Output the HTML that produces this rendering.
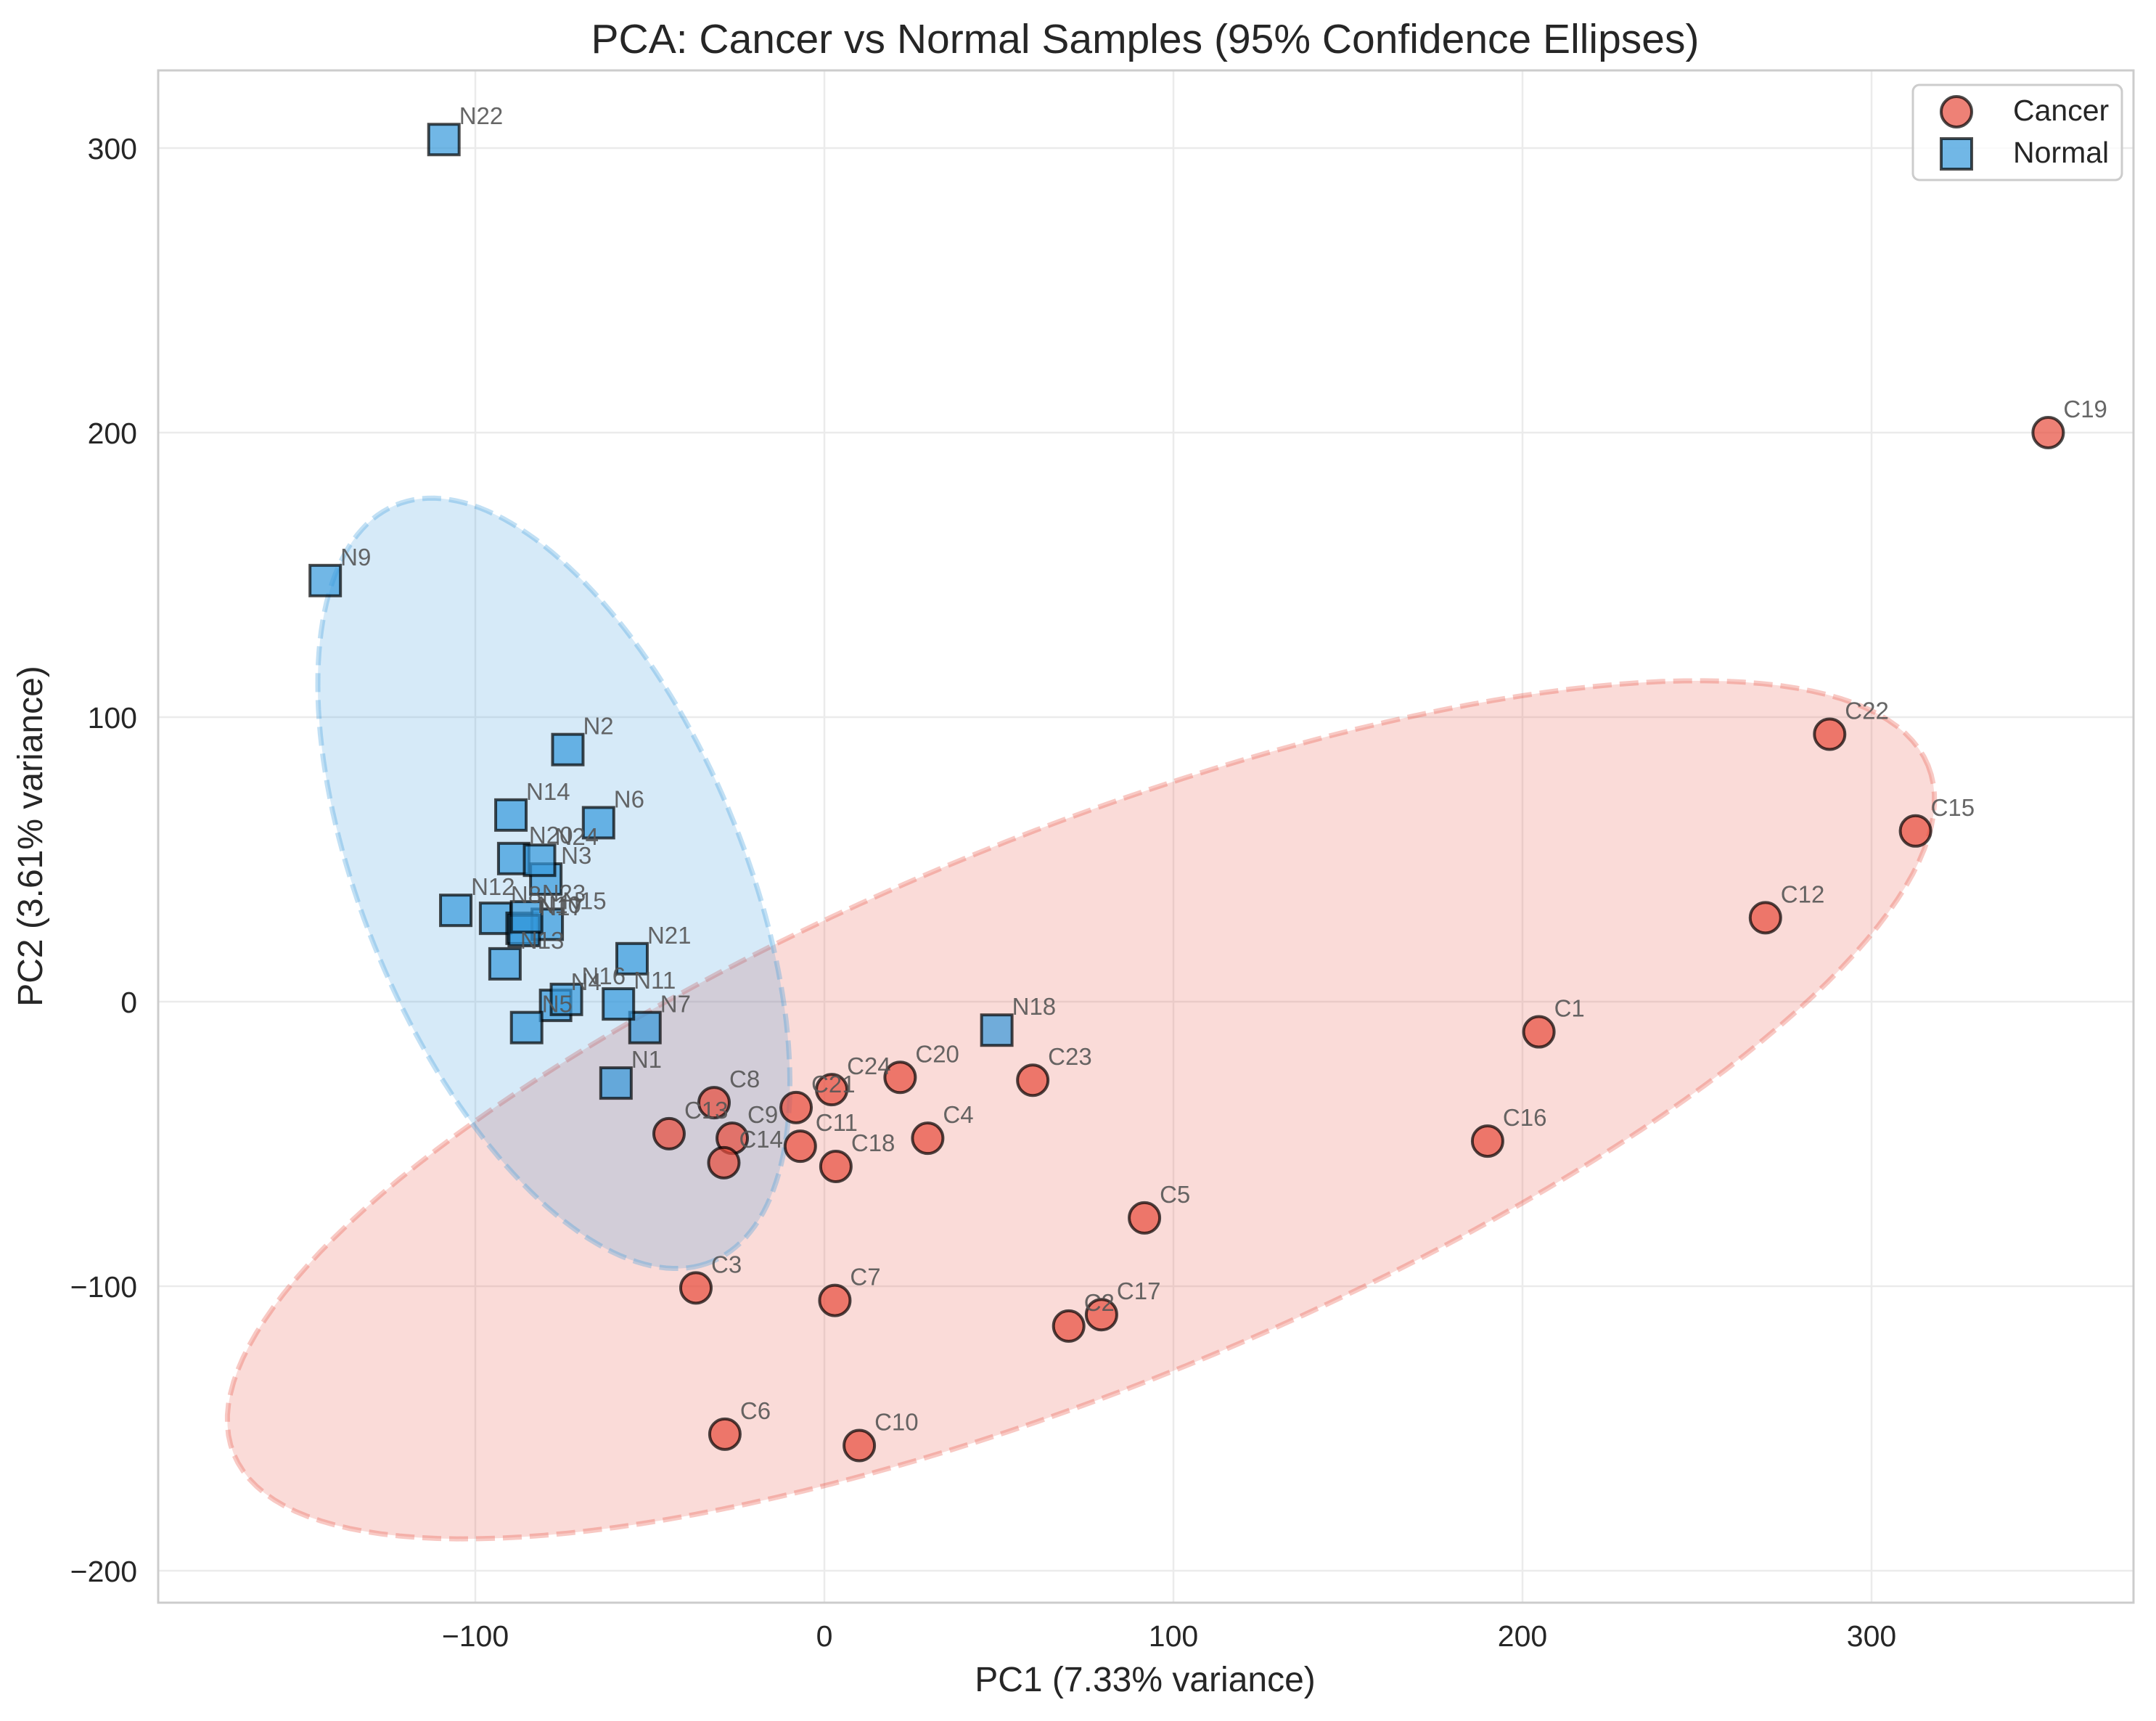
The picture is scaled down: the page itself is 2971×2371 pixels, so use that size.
<!DOCTYPE html>
<html><head><meta charset="utf-8"><style>
html,body{margin:0;padding:0;background:#fff;}
svg{display:block;font-family:"Liberation Sans",Arial,sans-serif;}
</style></head><body>
<svg id="chart" xmlns="http://www.w3.org/2000/svg" width="2971" height="2371" viewBox="0 0 2971 2371">
<rect x="0" y="0" width="2971" height="2371" fill="#fff"/>
<g id="grid"></g>
<g id="ellipses"></g>
<g id="points"></g>
<g id="labels"></g>
<rect x="218" y="97" width="2722" height="2111" fill="none" stroke="#cccccc" stroke-width="3"/>
<g id="ticks"></g>
<text x="1578" y="73" font-size="57" fill="#262626" text-anchor="middle">PCA: Cancer vs Normal Samples (95% Confidence Ellipses)</text>
<text x="1578" y="2330" font-size="48" fill="#262626" text-anchor="middle">PC1 (7.33% variance)</text>
<text x="0" y="0" font-size="48" fill="#262626" text-anchor="middle" transform="translate(58,1152) rotate(-90)">PC2 (3.61% variance)</text>
<g>
<rect x="2636" y="117" width="288" height="131" rx="9" fill="#fff" fill-opacity="0.8" stroke="#cccccc" stroke-width="3"/>
<circle cx="2696" cy="154" r="21" fill="#e74c3c" fill-opacity="0.7" stroke="#000" stroke-opacity="0.7" stroke-width="4"/>
<text x="2774" y="166" font-size="41" fill="#262626">Cancer</text>
<rect x="2675" y="191" width="42" height="42" fill="#3498db" fill-opacity="0.7" stroke="#000" stroke-opacity="0.7" stroke-width="4"/>
<text x="2774" y="224" font-size="41" fill="#262626">Normal</text>
</g>
</svg>
<script>
const xTicks = [-100, 0, 100, 200, 300];
const yTicks = [-200, -100, 0, 100, 200, 300];
const cancerNames = ["C1","C2","C3","C4","C5","C6","C7","C8","C9","C10","C11","C12","C13","C14","C15","C16","C17","C18","C19","C20","C21","C22","C23","C24"];
const cancerPC1 = [204.7,70,-36.8,29.6,91.7,-28.5,3,-31.6,-26.4,10,-6.9,269.6,-44.5,-28.8,312.6,190,79.4,3.3,350.6,21.7,-8.1,288,59.7,2.1];
const cancerPC2 = [-10.6,-114,-100.6,-48,-76,-152,-105,-35.5,-48,-156,-50.8,29.5,-46.4,-56.6,60,-49,-110,-57.9,200,-26.6,-37.2,94,-27.6,-30.9];
const normalNames = ["N1","N2","N3","N4","N5","N6","N7","N8","N9","N10","N11","N12","N13","N14","N15","N16","N17","N18","N20","N21","N22","N23","N24"];
const normalPC1 = [-59.7,-73.5,-79.8,-77,-85.3,-64.7,-51.4,-94.2,-143,-86.6,-59,-105.6,-91.5,-89.8,-79.4,-73.9,-86,49.4,-89,-55.1,-109,-85.3,-81.6];
const normalPC2 = [-28.6,88.6,43.1,-1.3,-9.1,62.9,-9.1,29.3,148,25.8,-0.8,32.1,13.3,65.6,27.2,0.8,25,-10,50.3,15.1,303,29.8,49.7];
// ellipse params (data units): center, major half-vector, minor half-vector
const cancerEllipseCenter = [73.5, -38];
const cancerEllipseMajor = [242.7, 121];
const cancerEllipseMinor = [30, -90];
const normalEllipseCenter = [-77.5, 41.6];
const normalEllipseMajor = [42, -134.3];
const normalEllipseMinor = [53, 17];

const NS = "http://www.w3.org/2000/svg";
const L = 218, R = 2940, T = 97, B = 2208;
function sx(v){ return 1136 + 4.81 * v; }
function sy(v){ return 1380 - 3.92 * v; }
function mk(tag, attrs, parent){
  const e = document.createElementNS(NS, tag);
  for (const k in attrs) e.setAttribute(k, attrs[k]);
  parent.appendChild(e);
  return e;
}
const grid = document.getElementById('grid');
const ticks = document.getElementById('ticks');
xTicks.forEach(v => {
  const g = mk('line', {x1: sx(v), x2: sx(v), y1: T, y2: B, stroke: '#ebebeb', 'stroke-width': 2.5}, grid);
  
  
  const t = mk('text', {x: sx(v), y: 2268, 'font-size': 41, fill: '#262626', 'text-anchor': 'middle'}, ticks);
  t.textContent = v === 0 ? '0' : String(v).replace('-', '\u2212');
  
  
});
yTicks.forEach(v => {
  const g = mk('line', {x1: L, x2: R, y1: sy(v), y2: sy(v), stroke: '#ebebeb', 'stroke-width': 2.5}, grid);
  
  
  const t = mk('text', {x: 189, y: sy(v) + 15, 'font-size': 41, fill: '#262626', 'text-anchor': 'end'}, ticks);
  t.textContent = v === 0 ? '0' : String(v).replace('-', '\u2212');
  
  
});
function ellipsePath(c, a, b){
  let d = '';
  for (let i = 0; i <= 180; i++){
    const t = i / 180 * 2 * Math.PI;
    const px = sx(c[0] + a[0] * Math.cos(t) + b[0] * Math.sin(t));
    const py = sy(c[1] + a[1] * Math.cos(t) + b[1] * Math.sin(t));
    d += (i ? 'L' : 'M') + px.toFixed(1) + ' ' + py.toFixed(1);
  }
  return d + 'Z';
}
const eg = document.getElementById('ellipses');
const ec = mk('path', {d: ellipsePath(cancerEllipseCenter, cancerEllipseMajor, cancerEllipseMinor), fill: 'rgba(231,76,60,0.2)', stroke: 'rgba(231,76,60,0.3)', 'stroke-width': 7, 'stroke-dasharray': '26 11'}, eg);


const en = mk('path', {d: ellipsePath(normalEllipseCenter, normalEllipseMajor, normalEllipseMinor), fill: 'rgba(52,152,219,0.2)', stroke: 'rgba(52,152,219,0.3)', 'stroke-width': 7, 'stroke-dasharray': '26 11'}, eg);



const pg = document.getElementById('points');
const lg = document.getElementById('labels');
cancerNames.forEach((n, i) => {
  const x = sx(cancerPC1[i]), y = sy(cancerPC2[i]);
  const c = mk('circle', {cx: x, cy: y, r: 21, fill: '#e74c3c', 'fill-opacity': 0.7, stroke: '#000', 'stroke-opacity': 0.7, 'stroke-width': 4}, pg);
  
  
  const t = mk('text', {x: x + 21, y: y - 21, 'font-size': 33, fill: '#555', 'fill-opacity': 0.9}, lg);
  t.textContent = n;
  
  
});
normalNames.forEach((n, i) => {
  const x = sx(normalPC1[i]), y = sy(normalPC2[i]);
  const s = mk('rect', {x: x - 21, y: y - 21, width: 42, height: 42, fill: '#3498db', 'fill-opacity': 0.7, stroke: '#000', 'stroke-opacity': 0.7, 'stroke-width': 4}, pg);
  
  
  const t = mk('text', {x: x + 21, y: y - 21, 'font-size': 33, fill: '#555', 'fill-opacity': 0.9}, lg);
  t.textContent = n;
  
  
});
</script>
</body></html>
